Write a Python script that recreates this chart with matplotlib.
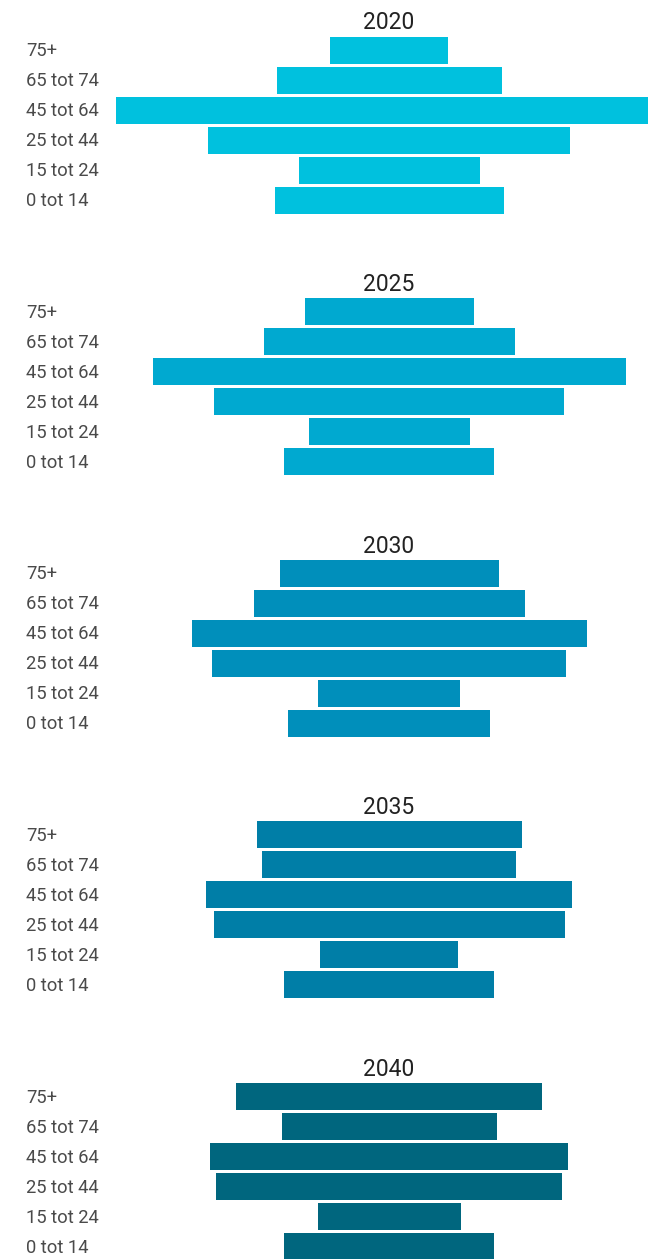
import matplotlib
matplotlib.use("Agg")
import matplotlib.pyplot as plt
from matplotlib.transforms import blended_transform_factory

years = ["2020", "2025", "2030", "2035", "2040"]
categories = ["75+", "65 tot 74", "45 tot 64", "25 tot 44", "15 tot 24", "0 tot 14"]
values_2020 = [118, 225, 546, 362, 181, 229]
values_2025 = [169, 251, 473, 350, 161, 210]
values_2030 = [219, 271, 395, 354, 142, 202]
values_2035 = [265, 254, 366, 351, 138, 210]
values_2040 = [306, 215, 358, 346, 143, 210]
series = [values_2020, values_2025, values_2030, values_2035, values_2040]
colors = ["#00C1DE", "#00A9D0", "#008FBB", "#007EA7", "#00667E"]

W, H = 648, 1259
fig = plt.figure(figsize=(W / 100, H / 100), dpi=100)
fig.patch.set_facecolor("white")

ax_left, ax_right = 100, 678
panel_step = 261.6
first_top = 35
ax_h = 180

for k, (yr, vals, col) in enumerate(zip(years, series, colors)):
    top = first_top + panel_step * k
    ax = fig.add_axes([ax_left / W, 1 - (top + ax_h) / H, (ax_right - ax_left) / W, ax_h / H])
    half = (ax_right - ax_left) / 2
    ax.set_xlim(-half, half)
    ax.set_ylim(len(categories) - 0.5, -0.5)
    y = list(range(len(categories)))
    ax.barh(y, vals, left=[-v / 2 for v in vals], height=0.9, color=col)
    ax.set_axis_off()
    ax.set_title(yr, fontsize=16.5, color="#222222", family="Roboto", pad=4)
    tr = blended_transform_factory(fig.transFigure, ax.transData)
    for i, c in enumerate(categories):
        ax.text(26 / W, i + 0.04, c, transform=tr, ha="left", va="center",
                fontsize=13.2, color="#4a4a4a", family="Roboto", fontweight="normal")

fig.savefig("out.png", dpi=100)
